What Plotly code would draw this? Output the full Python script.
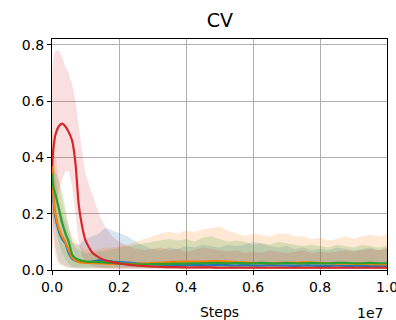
import plotly.graph_objects as go

# Steps in millions
steps_m = [0, 0.05, 0.1, 0.2, 0.3, 0.4, 0.5, 0.6, 0.7, 0.8, 0.9, 1.0, 1.2, 1.4, 1.6, 1.8, 2.0,
           2.25, 2.5, 2.75, 3.0, 3.25, 3.5, 3.75, 4.0, 4.25, 4.5, 4.75, 5.0, 5.25, 5.5, 5.75,
           6.0, 6.25, 6.5, 6.75, 7.0, 7.25, 7.5, 7.75, 8.0, 8.25, 8.5, 8.75, 9.0, 9.25, 9.5, 9.75, 10.0]

blue_mean = [0.36, 0.24, 0.19, 0.14, 0.11, 0.095, 0.06, 0.04, 0.033, 0.03, 0.029, 0.028, 0.03, 0.034, 0.033, 0.03, 0.028,
             0.026, 0.024, 0.022, 0.02, 0.019, 0.018, 0.018, 0.017, 0.018, 0.017, 0.017, 0.018, 0.017, 0.016, 0.017,
             0.016, 0.016, 0.017, 0.016, 0.016, 0.015, 0.016, 0.016, 0.015, 0.015, 0.016, 0.015, 0.015, 0.015, 0.014, 0.015, 0.015]
blue_upper = [0.45, 0.40, 0.32, 0.25, 0.20, 0.17, 0.13, 0.10, 0.09, 0.09, 0.10, 0.11, 0.12, 0.13, 0.15, 0.14, 0.13,
              0.12, 0.10, 0.085, 0.075, 0.07, 0.08, 0.075, 0.085, 0.08, 0.09, 0.085, 0.08, 0.09, 0.085, 0.09,
              0.10, 0.095, 0.085, 0.08, 0.085, 0.075, 0.08, 0.07, 0.075, 0.07, 0.08, 0.075, 0.07, 0.075, 0.08, 0.07, 0.075]
blue_lower = [0.25, 0.12, 0.08, 0.03, 0.02, 0.015, 0.01, 0.008, 0.006, 0.005, 0.005, 0.005, 0.005, 0.005, 0.005, 0.005, 0.005,
              0.005, 0.005, 0.004, 0.004, 0.004, 0.004, 0.004, 0.004, 0.004, 0.004, 0.004, 0.004, 0.004, 0.004, 0.004,
              0.004, 0.004, 0.004, 0.004, 0.004, 0.004, 0.004, 0.004, 0.004, 0.004, 0.004, 0.004, 0.004, 0.004, 0.004, 0.004, 0.004]

orange_mean = [0.38, 0.25, 0.20, 0.15, 0.12, 0.10, 0.07, 0.045, 0.033, 0.028, 0.026, 0.025, 0.025, 0.024, 0.023, 0.022, 0.022,
               0.022, 0.022, 0.023, 0.025, 0.026, 0.028, 0.029, 0.03, 0.03, 0.03, 0.031, 0.032, 0.03, 0.028, 0.027,
               0.025, 0.025, 0.024, 0.025, 0.025, 0.026, 0.028, 0.026, 0.025, 0.024, 0.023, 0.023, 0.022, 0.022, 0.021, 0.021, 0.02]
orange_upper = [0.50, 0.45, 0.40, 0.32, 0.25, 0.20, 0.15, 0.12, 0.10, 0.09, 0.08, 0.075, 0.07, 0.075, 0.08, 0.08, 0.085,
                0.09, 0.10, 0.11, 0.12, 0.13, 0.135, 0.13, 0.14, 0.135, 0.145, 0.15, 0.155, 0.14, 0.13, 0.12,
                0.13, 0.125, 0.12, 0.13, 0.13, 0.12, 0.12, 0.11, 0.115, 0.105, 0.11, 0.12, 0.11, 0.12, 0.125, 0.12, 0.125]
orange_lower = [0.25, 0.10, 0.05, 0.02, 0.015, 0.01, 0.008, 0.006, 0.005, 0.005, 0.005, 0.005, 0.005, 0.005, 0.005, 0.005, 0.005,
                0.005, 0.005, 0.005, 0.005, 0.005, 0.005, 0.005, 0.005, 0.005, 0.005, 0.005, 0.005, 0.005, 0.005, 0.005,
                0.005, 0.005, 0.005, 0.005, 0.005, 0.005, 0.005, 0.005, 0.005, 0.005, 0.005, 0.005, 0.005, 0.005, 0.005, 0.005, 0.005]

green_mean = [0.34, 0.29, 0.27, 0.22, 0.17, 0.13, 0.10, 0.055, 0.042, 0.036, 0.033, 0.03, 0.029, 0.028, 0.026, 0.025, 0.023,
              0.021, 0.02, 0.02, 0.021, 0.022, 0.022, 0.023, 0.023, 0.024, 0.024, 0.025, 0.025, 0.024, 0.025, 0.024,
              0.024, 0.025, 0.024, 0.024, 0.025, 0.024, 0.024, 0.025, 0.024, 0.024, 0.025, 0.025, 0.024, 0.024, 0.025, 0.024, 0.024]
green_upper = [0.45, 0.38, 0.35, 0.32, 0.28, 0.22, 0.15, 0.10, 0.08, 0.07, 0.065, 0.06, 0.06, 0.065, 0.07, 0.075, 0.08,
               0.085, 0.09, 0.095, 0.10, 0.105, 0.11, 0.105, 0.11, 0.10, 0.115, 0.12, 0.11, 0.10, 0.105, 0.10,
               0.09, 0.095, 0.09, 0.10, 0.095, 0.09, 0.085, 0.09, 0.085, 0.08, 0.09, 0.085, 0.08, 0.09, 0.085, 0.08, 0.085]
green_lower = [0.20, 0.17, 0.15, 0.10, 0.06, 0.04, 0.02, 0.012, 0.01, 0.008, 0.008, 0.008, 0.008, 0.008, 0.008, 0.008, 0.008,
               0.008, 0.008, 0.008, 0.008, 0.008, 0.008, 0.008, 0.008, 0.008, 0.008, 0.008, 0.008, 0.008, 0.008, 0.008,
               0.008, 0.008, 0.008, 0.008, 0.008, 0.008, 0.008, 0.008, 0.008, 0.008, 0.008, 0.008, 0.008, 0.008, 0.008, 0.008, 0.008]

red_mean = [0.37, 0.44, 0.48, 0.51, 0.52, 0.51, 0.49, 0.46, 0.38, 0.23, 0.155, 0.105, 0.062, 0.045, 0.034, 0.028, 0.023,
            0.019, 0.016, 0.014, 0.012, 0.011, 0.010, 0.010, 0.009, 0.009, 0.009, 0.009, 0.008, 0.008, 0.008, 0.008,
            0.008, 0.008, 0.008, 0.008, 0.008, 0.008, 0.008, 0.008, 0.008, 0.008, 0.008, 0.008, 0.008, 0.008, 0.008, 0.008, 0.008]
red_upper = [0.70, 0.76, 0.78, 0.78, 0.76, 0.72, 0.70, 0.66, 0.60, 0.50, 0.42, 0.34, 0.27, 0.20, 0.15, 0.12, 0.10,
             0.085, 0.075, 0.07, 0.075, 0.08, 0.07, 0.075, 0.065, 0.07, 0.08, 0.075, 0.07, 0.065, 0.07, 0.06,
             0.065, 0.06, 0.07, 0.065, 0.06, 0.065, 0.07, 0.06, 0.065, 0.06, 0.065, 0.07, 0.065, 0.07, 0.075, 0.07, 0.08]
red_lower = [0.05, 0.15, 0.22, 0.28, 0.32, 0.35, 0.35, 0.30, 0.20, 0.10, 0.05, 0.03, 0.015, 0.008, 0.005, 0.004, 0.003,
             0.002, 0.002, 0.002, 0.002, 0.002, 0.002, 0.002, 0.002, 0.002, 0.002, 0.002, 0.002, 0.002, 0.002, 0.002,
             0.002, 0.002, 0.002, 0.002, 0.002, 0.002, 0.002, 0.002, 0.002, 0.002, 0.002, 0.002, 0.002, 0.002, 0.002, 0.002, 0.002]

x_tick_vals = [0, 2e6, 4e6, 6e6, 8e6, 1e7]
x_tick_text = ["0.0", "0.2", "0.4", "0.6", "0.8", "1.0"]
y_tick_vals = [0.0, 0.2, 0.4, 0.6, 0.8]
y_tick_text = ["0.0", "0.2", "0.4", "0.6", "0.8"]

steps = [s * 1e6 for s in steps_m]

series = [
    ("blue", "#1f77b4", "rgba(31,119,180,0.18)", blue_mean, blue_upper, blue_lower),
    ("orange", "#ff7f0e", "rgba(255,127,14,0.18)", orange_mean, orange_upper, orange_lower),
    ("green", "#2ca02c", "rgba(44,160,44,0.18)", green_mean, green_upper, green_lower),
    ("red", "#d62728", "rgba(214,39,40,0.15)", red_mean, red_upper, red_lower),
]

fig = go.Figure()
for name, col, fillcol, m, up, lo in series:
    fig.add_trace(go.Scatter(
        x=steps + steps[::-1], y=up + lo[::-1], fill="toself", fillcolor=fillcol,
        line=dict(width=0), mode="lines", hoverinfo="skip", showlegend=False))
for name, col, fillcol, m, up, lo in series:
    fig.add_trace(go.Scatter(
        x=steps, y=m, mode="lines", line=dict(color=col, width=2.2, smoothing=0.6), name=name,
        showlegend=False, line_shape="spline", hoverinfo="skip"))

font = "DejaVu Sans"
fig.update_layout(
    width=396, height=320,
    margin=dict(l=52, r=9, t=39, b=50),
    paper_bgcolor="white", plot_bgcolor="white",
    font=dict(family=font, size=14, color="black"),
    title=dict(text="CV", x=0.555, xanchor="center", y=0.935, yanchor="middle",
               font=dict(family=font, size=19, color="black")),
    xaxis=dict(range=[0, 1e7], tickvals=x_tick_vals, ticktext=x_tick_text,
               showgrid=True, gridcolor="#b0b0b0", gridwidth=1, ticklabeloverflow="allow",
               automargin=False,
               showline=True, linecolor="black", linewidth=1.2, mirror=True,
               ticks="outside", ticklen=4, tickcolor="black", zeroline=False,
               title=dict(text="Steps", font=dict(size=14), standoff=14)),
    yaxis=dict(range=[0, 0.821], tickvals=y_tick_vals, ticktext=y_tick_text,
               showgrid=True, gridcolor="#b0b0b0", gridwidth=1, automargin=False,
               showline=True, linecolor="black", linewidth=1.2, mirror=True,
               ticks="outside", ticklen=4, tickcolor="black", zeroline=False),
    annotations=[dict(text="1e7", xref="paper", yref="paper", x=1.0, y=0, xanchor="right",
                      yanchor="top", yshift=-33, xshift=-2, showarrow=False,
                      font=dict(family=font, size=14, color="black"))],
)

fig.write_html("out.html", config={"displayModeBar": False},
               post_script="document.body.style.margin='0';")
